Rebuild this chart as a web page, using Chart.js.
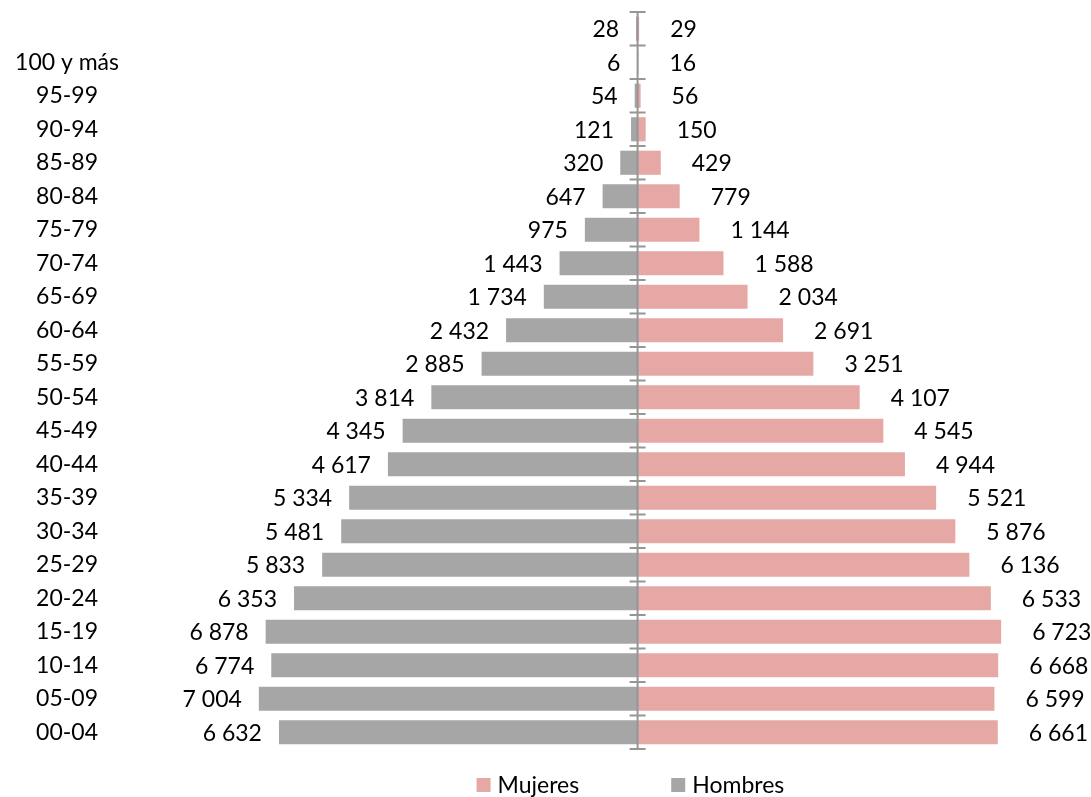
<!DOCTYPE html>
<html>
<head>
<meta charset="utf-8">
<script src="https://cdn.jsdelivr.net/npm/chart.js@4.4.1/dist/chart.umd.min.js"></script>
<style>
    html, body { margin: 0; padding: 0; background: #fff; }
    #wrap { width: 1091px; height: 797px; }
</style>
</head>
<body>
<div id="wrap"><canvas id="myChart"></canvas></div>
<script>
// grupos de edad, de arriba hacia abajo (la primera fila no tiene rótulo)
const grupos = ['', '100 y más', '95-99', '90-94', '85-89', '80-84', '75-79', '70-74', '65-69',
    '60-64', '55-59', '50-54', '45-49', '40-44', '35-39', '30-34', '25-29', '20-24',
    '15-19', '10-14', '05-09', '00-04'];

const hombres = [28, 6, 54, 121, 320, 647, 975, 1443, 1734, 2432, 2885, 3814, 4345, 4617,
    5334, 5481, 5833, 6353, 6878, 6774, 7004, 6632];

const mujeres = [29, 16, 56, 150, 429, 779, 1144, 1588, 2034, 2691, 3251, 4107, 4545, 4944,
    5521, 5876, 6136, 6533, 6723, 6668, 6599, 6661];

const colorMujeres = '#E5A8A5';
const colorHombres = '#A6A6A6';
const fuente = 'Lato, "DejaVu Sans", sans-serif';

function formatear(v) {
    return String(v).replace(/\B(?=(\d{3})+(?!\d))/g, ' ');
}

// valores de cada barra
const etiquetasPlugin = {
    id: 'etiquetas',
    afterDatasetsDraw(chart) {
        const ctx = chart.ctx;
        ctx.save();
        ctx.font = '23px ' + fuente;
        ctx.fillStyle = '#000';
        ctx.textBaseline = 'middle';
        chart.data.datasets.forEach((ds, i) => {
            const meta = chart.getDatasetMeta(i);
            meta.data.forEach((bar, j) => {
                const valor = ds.data[j];
                const txt = formatear(Math.abs(valor));
                if (valor < 0) {
                    ctx.textAlign = 'right';
                    ctx.fillText(txt, bar.x - 17, bar.y + 1);
                } else {
                    ctx.textAlign = 'left';
                    ctx.fillText(txt, bar.x + 31, bar.y + 1);
                }
            });
        });
        ctx.restore();
    }
};

// eje central con marcas entre categorías
const ejeCentralPlugin = {
    id: 'ejeCentral',
    afterDatasetsDraw(chart) {
        const ctx = chart.ctx;
        const yScale = chart.scales.y;
        const x0 = chart.scales.x.getPixelForValue(0);
        const n = chart.data.labels.length;
        const paso = yScale.getPixelForValue(1) - yScale.getPixelForValue(0);
        const arriba = yScale.getPixelForValue(0) - paso / 2;
        const abajo = yScale.getPixelForValue(n - 1) + paso / 2;
        ctx.save();
        ctx.strokeStyle = '#969696';
        ctx.lineWidth = 2;
        ctx.beginPath();
        ctx.moveTo(x0, arriba);
        ctx.lineTo(x0, abajo);
        for (let k = 0; k <= n; k++) {
            const y = arriba + k * paso;
            ctx.moveTo(x0 - 8, y);
            ctx.lineTo(x0 + 8, y);
        }
        ctx.stroke();
        ctx.restore();
    }
};

// leyenda inferior
const leyendaPlugin = {
    id: 'leyenda',
    afterDraw(chart) {
        const ctx = chart.ctx;
        const items = chart.data.datasets.map(ds => ({ text: ds.label, color: ds.backgroundColor }));
        ctx.save();
        ctx.font = '23px ' + fuente;
        ctx.textBaseline = 'middle';
        ctx.textAlign = 'left';
        const caja = 14, sep = 7, entre = 92;
        const yc = 785;
        let x = chart.scales.x.getPixelForValue(0) - 161;
        items.forEach(it => {
            ctx.fillStyle = it.color;
            ctx.fillRect(x, yc - caja / 2, caja, caja);
            x += caja + sep;
            ctx.fillStyle = '#000';
            ctx.fillText(it.text, x, yc + 1);
            x += ctx.measureText(it.text).width + entre;
        });
        ctx.restore();
    }
};

const ctx = document.getElementById('myChart');

new Chart(ctx, {
    type: 'bar',
    data: {
        labels: grupos,
        datasets: [
            {
                label: 'Mujeres',
                data: mujeres,
                backgroundColor: colorMujeres,
                borderWidth: 0,
                barPercentage: 0.72,
                categoryPercentage: 1
            },
            {
                label: 'Hombres',
                data: hombres.map(v => -v),
                backgroundColor: colorHombres,
                borderWidth: 0,
                barPercentage: 0.72,
                categoryPercentage: 1
            }
        ]
    },
    options: {
        indexAxis: 'y',
        responsive: true,
        maintainAspectRatio: false,
        animation: false,
        layout: {
            padding: { top: 12, bottom: 48, left: 0, right: 10 }
        },
        plugins: {
            legend: { display: false },
            tooltip: { enabled: false },
            title: { display: false }
        },
        scales: {
            x: {
                display: false,
                stacked: true,
                min: -9590,
                max: 8200
            },
            y: {
                stacked: true,
                grid: { display: false, drawTicks: false },
                border: { display: false },
                ticks: {
                    font: { size: 23, family: fuente, lineHeight: 0.8 },
                    color: '#000',
                    crossAlign: 'center',
                    padding: 0,
                    autoSkip: false
                },
                afterFit(scale) {
                    scale.width = 119;
                }
            }
        }
    },
    plugins: [etiquetasPlugin, ejeCentralPlugin, leyendaPlugin]
});
</script>
</body>
</html>
